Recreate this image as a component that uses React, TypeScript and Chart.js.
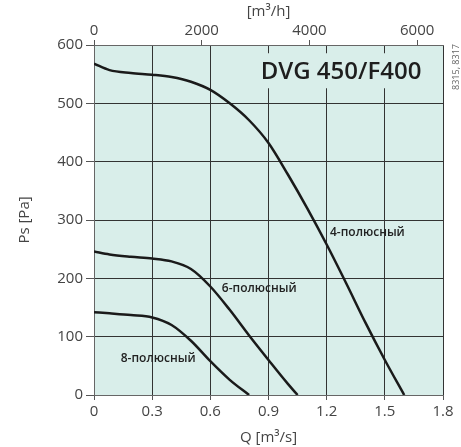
import React, { useEffect, useRef } from "react";
import { Chart, registerables } from "chart.js";

Chart.register(...registerables);

// Q [m³/s] and Ps [Pa] for each curve
const Q4 = [0, 0.08, 0.19, 0.3, 0.4, 0.5, 0.6, 0.7, 0.8, 0.9, 1.0, 1.1, 1.2, 1.3, 1.4, 1.5, 1.6];
const P4 = [568, 557, 552, 549, 545, 537, 523, 500, 471, 432, 378, 320, 258, 192, 124, 60, 0];
const Q6 = [0, 0.08, 0.19, 0.3, 0.4, 0.5, 0.6, 0.7, 0.8, 0.9, 1.0, 1.05];
const P6 = [246, 241, 237, 234, 229, 216, 186, 146, 102, 60, 19, 0];
const Q8 = [0, 0.08, 0.19, 0.3, 0.4, 0.5, 0.6, 0.7, 0.8];
const P8 = [142, 140, 137, 133, 120, 93, 58, 26, 0];

const CURVE_LABELS = ["4-полюсный", "6-полюсный", "8-полюсный"];
const TITLE = "DVG 450/F400";
const SIDE_CODE = "8315, 8317";

const X_TICKS = [0, 0.3, 0.6, 0.9, 1.2, 1.5, 1.8];
const X_TICK_LABELS = ["0", "0.3", "0.6", "0.9", "1.2", "1.5", "1.8"];
const X2_TICKS = [0, 2000, 4000, 6000];
const X2_TICK_LABELS = ["0", "2000", "4000", "6000"];
const Y_TICKS = [0, 100, 200, 300, 400, 500, 600];
const Y_TICK_LABELS = ["0", "100", "200", "300", "400", "500", "600"];

const FONT = "'Open Sans', 'DejaVu Sans', sans-serif";
const BG = "#d9eeea";
const INK = "#1a1a1a";
const TEXT = "#444";

const pts = (q: number[], p: number[]) => q.map((x, i) => ({ x, y: p[i] }));

const decorPlugin = {
  id: "decor",
  beforeDraw(chart: any) {
    const { ctx, chartArea: a } = chart;
    ctx.save();
    ctx.fillStyle = BG;
    ctx.fillRect(a.left, a.top, a.right - a.left, a.bottom - a.top);
    ctx.restore();
  },
  beforeDatasetsDraw(chart: any) {
    const { ctx } = chart;
    const xs = chart.scales.x;
    const ys = chart.scales.y;
    ctx.save();
    ctx.font = `600 24px ${FONT}`;
    const w = ctx.measureText(TITLE).width;
    const cx = xs.getPixelForValue(1.274);
    const cy = ys.getPixelForValue(555);
    ctx.fillStyle = BG;
    ctx.fillRect(cx - w / 2 - 8, cy - 18, w + 16, 35);
    ctx.fillStyle = "#1e1e1e";
    ctx.textAlign = "center";
    ctx.textBaseline = "middle";
    ctx.fillText(TITLE, cx, cy + 1);
    ctx.restore();
  },
  afterDatasetsDraw(chart: any) {
    const { ctx } = chart;
    const xs = chart.scales.x;
    const ys = chart.scales.y;
    const pos = [
      [1.217, 279],
      [0.659, 183],
      [0.138, 63],
    ];
    ctx.save();
    ctx.font = `600 12px ${FONT}`;
    ctx.fillStyle = "#222";
    ctx.textAlign = "left";
    ctx.textBaseline = "middle";
    CURVE_LABELS.forEach((t, i) => {
      ctx.fillText(t, xs.getPixelForValue(pos[i][0]), ys.getPixelForValue(pos[i][1]));
    });
    ctx.restore();
  },
  afterDraw(chart: any) {
    const { ctx } = chart;
    ctx.save();
    ctx.translate(456, 67);
    ctx.rotate(-Math.PI / 2);
    ctx.font = `9px ${FONT}`;
    ctx.fillStyle = "#666";
    ctx.textAlign = "center";
    ctx.textBaseline = "middle";
    ctx.fillText(SIDE_CODE, 0, 0);
    ctx.restore();
  },
};

export default function App() {
  const ref = useRef<HTMLCanvasElement>(null);
  useEffect(() => {
    if (!ref.current) return;
    const ds = (q: number[], p: number[]) => ({
      data: pts(q, p),
      borderColor: INK,
      borderWidth: 2.5,
      pointRadius: 0,
      fill: false,
      cubicInterpolationMode: "monotone" as const,
      xAxisID: "x",
      yAxisID: "y",
    });
    const chart = new Chart(ref.current, {
      type: "line",
      data: { datasets: [ds(Q4, P4), ds(Q6, P6), ds(Q8, P8)] },
      options: {
        animation: false,
        responsive: false,
        devicePixelRatio: 1,
        layout: { padding: { left: 0, right: 18, top: 0, bottom: 0 } },
        plugins: { legend: { display: false }, tooltip: { enabled: false } },
        scales: {
          x: {
            type: "linear",
            position: "bottom",
            min: 0,
            max: 1.8,
            afterFit: (s: any) => { s.height = 52; },
            afterBuildTicks: (s: any) => { s.ticks = X_TICKS.map((v) => ({ value: v })); },
            ticks: {
              callback: (_v: any, i: number) => X_TICK_LABELS[i],
              color: TEXT,
              font: { family: FONT, size: 15 },
              padding: 3,
              maxRotation: 0,
            },
            grid: { color: "#333", tickColor: "#555", tickLength: 5 },
            border: { color: "#666" },
            title: {
              display: true,
              text: "Q [m³/s]",
              color: TEXT,
              font: { family: FONT, size: 15 },
              padding: { top: 0, bottom: 0 },
            },
          },
          x2: {
            type: "linear",
            position: "top",
            min: 0,
            max: 6480,
            afterFit: (s: any) => { s.height = 45; },
            afterBuildTicks: (s: any) => { s.ticks = X2_TICKS.map((v) => ({ value: v })); },
            ticks: {
              callback: (_v: any, i: number) => X2_TICK_LABELS[i],
              color: TEXT,
              font: { family: FONT, size: 15 },
              padding: 0,
              maxRotation: 0,
            },
            grid: { drawOnChartArea: false, tickColor: "#555", tickLength: 5 },
            border: { color: "#666" },
            title: {
              display: true,
              text: "[m³/h]",
              color: TEXT,
              font: { family: FONT, size: 15 },
              padding: { top: 3, bottom: 0 },
            },
          },
          y: {
            type: "linear",
            position: "left",
            min: 0,
            max: 600,
            afterFit: (s: any) => { s.width = 94; },
            afterBuildTicks: (s: any) => { s.ticks = Y_TICKS.map((v) => ({ value: v })); },
            ticks: {
              callback: (_v: any, i: number) => Y_TICK_LABELS[i],
              color: TEXT,
              font: { family: FONT, size: 15 },
              padding: 3,
            },
            grid: { color: "#333", tickColor: "#555", tickLength: 8 },
            border: { color: "#666" },
            title: {
              display: true,
              text: "Ps [Pa]",
              color: TEXT,
              font: { family: FONT, size: 15 },
              padding: { top: 16, bottom: 0 },
            },
          },
        },
      },
      plugins: [decorPlugin],
    });
    return () => chart.destroy();
  }, []);
  return (
    <div style={{ position: "fixed", left: 0, top: 0, width: 461, height: 447 }}>
      <canvas ref={ref} width={461} height={447} style={{ display: "block" }} />
    </div>
  );
}
